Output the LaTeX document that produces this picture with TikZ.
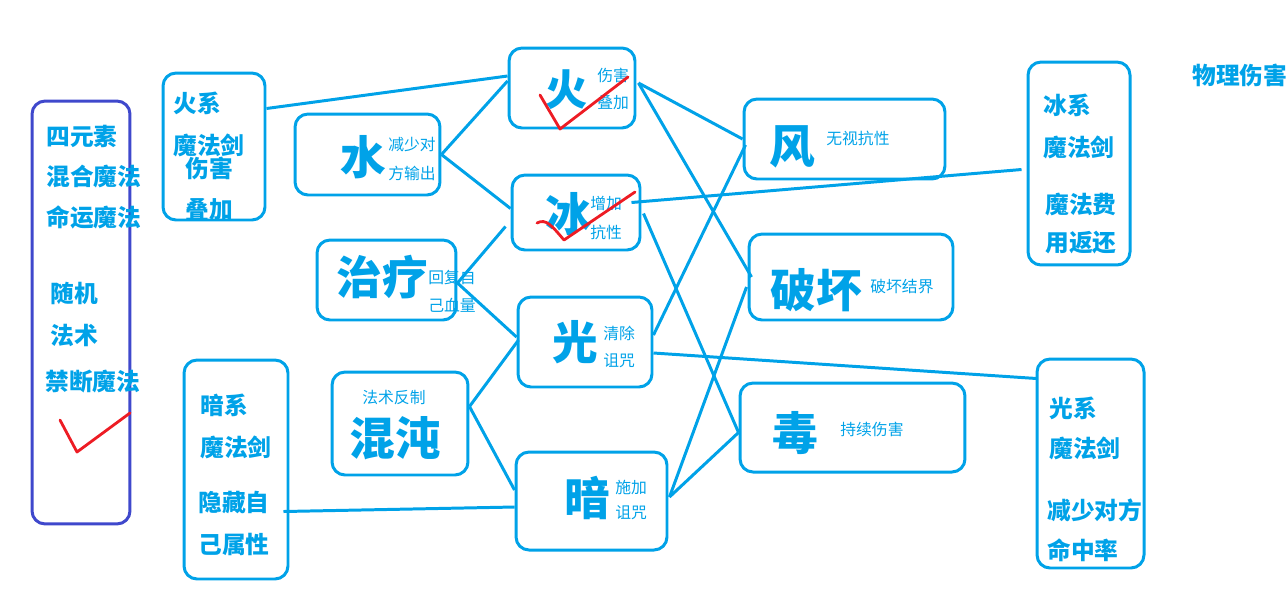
\documentclass[tikz,border=0pt]{standalone}
\usepackage{fontspec}
\setmainfont{Noto Sans CJK SC}
\usetikzlibrary{calc}
\definecolor{paintblue}{HTML}{00A2E8}
\definecolor{paintindigo}{HTML}{3F48CC}
\definecolor{paintred}{HTML}{ED1C24}
\tikzset{
box/.style 2 args={draw=paintblue, line width=1.7pt, rounded corners=2.6mm, minimum width=#1*0.2mm, minimum height=#2*0.2mm, inner sep=0pt},
bigtext/.style={text=paintblue, font=\bfseries\fontsize{26}{26}\selectfont, inner sep=0pt},
smalltext/.style={text=paintblue, font=\fontsize{9}{9}\selectfont, anchor=west, inner sep=0pt},
sidetext/.style={text=paintblue, font=\bfseries\fontsize{13.5}{13.5}\selectfont, anchor=west, inner sep=0pt},
link/.style={draw=paintblue, line width=1.7pt},
tick/.style={draw=paintred, line width=1.6pt, line join=round, line cap=round}
}

\begin{document}
\begin{tikzpicture}[x=0.02cm, y=-0.02cm]
\useasboundingbox (0,0) rectangle (1287,600);
%Boxes
\node [box={98}{423}, draw=paintindigo] (mix) at (81,312.5) {};
\node [box={102}{147}] (fsword) at (214,146.5) {};
\node [box={104}{219}] (dsword) at (236,469.5) {};
\node [box={145}{81}] (water) at (367.5,154.5) {};
\node [box={139}{80}] (heal) at (386.5,280) {};
\node [box={136}{103}] (chaos) at (400,423.5) {};
\node [box={126}{80}] (fire) at (572,88) {};
\node [box={128}{75}] (ice) at (576,212.5) {};
\node [box={134}{90}] (light) at (585,342) {};
\node [box={151}{98}] (dark) at (591.5,501) {};
\node [box={201}{80}] (wind) at (844.5,139) {};
\node [box={204}{86}] (ruin) at (851,277) {};
\node [box={225}{89}] (poison) at (852.5,427.5) {};
\node [box={102}{203}] (isword) at (1079,163.5) {};
\node [box={107}{209}] (lsword) at (1090.5,463.5) {};

%Left column texts
\node [sidetext] (mixA) at (46,136) {四元素};
\node [sidetext] (mixB) at (46,177) {混合魔法};
\node [sidetext] (mixC) at (46,217) {命运魔法};
\node [sidetext] (mixD) at (50,293) {随机};
\node [sidetext] (mixE) at (50,335) {法术};
\node [sidetext] (mixF) at (45,382) {禁断魔法};
\node [sidetext] (fswordA) at (173,103) {火系};
\node [sidetext] (fswordB) at (173,145) {魔法剑};
\node [sidetext] (fswordC) at (185,168) {伤害};
\node [sidetext] (fswordD) at (185,210) {叠加};
\node [sidetext] (dswordA) at (200,405) {暗系};
\node [sidetext] (dswordB) at (200,447) {魔法剑};
\node [sidetext] (dswordC) at (198,503) {隐藏自};
\node [sidetext] (dswordD) at (198,544) {己属性};

%Element texts
\node [bigtext] (waterT) at (363,157) {水};
\node [smalltext] (waterA) at (388,145) {减少对};
\node [smalltext] (waterB) at (388,173) {方输出};
\node [bigtext] (healT) at (382,277) {治疗};
\node [smalltext] (healA) at (428,277) {回复自};
\node [smalltext] (healB) at (428,305) {己血量};
\node [smalltext] (chaosA) at (362,398) {法术反制};
\node [bigtext] (chaosT) at (395,438) {混沌};
\node [bigtext, font=\bfseries\fontsize{24}{24}\selectfont] (fireT) at (567,90) {火};
\node [smalltext] (fireA) at (597,75) {伤害};
\node [smalltext] (fireB) at (597,103) {叠加};
\node [bigtext] (iceT) at (568,214) {冰};
\node [smalltext] (iceA) at (590,203) {增加};
\node [smalltext] (iceB) at (590,232) {抗性};
\node [bigtext] (lightT) at (575,342) {光};
\node [smalltext] (lightA) at (603,333) {清除};
\node [smalltext] (lightB) at (603,361) {诅咒};
\node [bigtext] (darkT) at (587,498) {暗};
\node [smalltext] (darkA) at (615,487) {施加};
\node [smalltext] (darkB) at (615,513) {诅咒};
\node [bigtext] (windT) at (792,147) {风};
\node [smalltext] (windA) at (826,138) {无视抗性};
\node [bigtext] (ruinT) at (816,290) {破坏};
\node [smalltext] (ruinA) at (870,287) {破坏结界};
\node [bigtext] (poisonT) at (795,433) {毒};
\node [smalltext] (poisonA) at (840,429) {持续伤害};

%Right column texts
\node [sidetext] (iswordA) at (1043,105) {冰系};
\node [sidetext] (iswordB) at (1043,147) {魔法剑};
\node [sidetext] (iswordC) at (1045,205) {魔法费};
\node [sidetext] (iswordD) at (1045,243) {用返还};
\node [sidetext] (lswordA) at (1049,408) {光系};
\node [sidetext] (lswordB) at (1049,448) {魔法剑};
\node [sidetext] (lswordC) at (1047,510) {减少对方};
\node [sidetext] (lswordD) at (1047,550) {命中率};
\node [sidetext] (phys) at (1192,75) {物理伤害};

%Lines
\draw [link] ($(fsword.east)+(0,-38)$) -- ($(fire.west)+(0,-12)$);
\draw [link] (water.east) -- ($(fire.west)+(0,-7)$);
\draw [link] (water.east) -- ($(ice.west)+(0,-4)$);
\draw [link] ($(heal.east)+(0,3)$) -- ($(ice.west)+(-5,14)$);
\draw [link] ($(heal.east)+(0,3)$) -- ($(light.west)+(0,-5)$);
\draw [link] ($(chaos.east)+(0,-17)$) -- ($(light.west)+(2,-2)$);
\draw [link] ($(chaos.east)+(0,-17)$) -- ($(dark.west)+(0,-11)$);
\draw [link] ($(dsword.east)+(-6,42)$) -- ($(dark.west)+(0,6)$);
\draw [link] ($(fire.east)+(2,-5)$) -- (wind.west);
\draw [link] ($(fire.east)+(2,-5)$) -- ($(ruin.west)+(4,0)$);
\draw [link] ($(ice.east)+(-10,-10)$) -- ($(isword.west)+(-5,6)$);
\draw [link] ($(ice.east)+(2,1)$) -- ($(poison.west)+(0,5)$);
\draw [link] ($(light.east)+(0,-7)$) -- ($(wind.west)+(3,6)$);
\draw [link] ($(light.east)+(0,11)$) -- ($(lsword.west)+(1,-85)$);
\draw [link] ($(dark.east)+(1,-4)$) -- ($(ruin.west)+(-1,10)$);
\draw [link] ($(dark.east)+(1,-4)$) -- ($(poison.west)+(0,5)$);

%Ticks
\draw [tick] (540,95) -- (560,129) -- (628,77);
\draw [tick] (537,223) .. controls (546,218) and (552,226) .. (564,240) -- (635,192);
\draw [tick] (60,420) -- (77,452) -- (130,413);
\end{tikzpicture}
\end{document}
